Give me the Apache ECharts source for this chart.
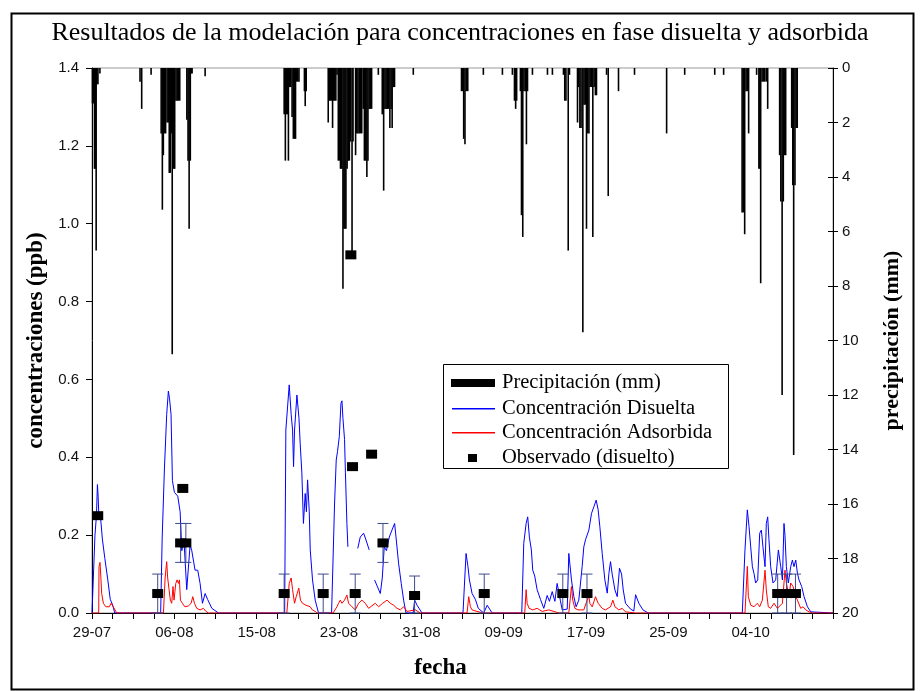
<!DOCTYPE html>
<html>
<head>
<meta charset="utf-8">
<script src="https://cdn.jsdelivr.net/npm/echarts@6/dist/echarts.min.js"></script>
<style>
  html, body { margin: 0; padding: 0; background: #fff; }
  #chart { width: 920px; height: 691px; }
</style>
</head>
<body>
<div id="chart"></div>
<script>
// x values are days counted from 29-07
const dateLabels = ['29-07', '06-08', '15-08', '23-08', '31-08', '09-09', '17-09', '25-09', '04-10'];
const tickStep = 25 / 12;

// precipitation [day, mm]
const precipitacion = [
    [0.05, 1.3], [0.15, 1.3], [0.25, 3.7], [0.35, 3.7], [0.42, 6.7], [0.5, 0.6], [0.6, 0.6], [0.8, 0.2],
    [4.86, 0.5], [5.03, 1.5], [5.98, 0.25],
    [7.0, 2.4], [7.12, 5.2], [7.22, 3.2], [7.35, 2.4], [7.45, 2.4], [7.6, 2.0], [7.72, 2.0], [7.82, 3.85],
    [7.92, 3.85], [8.02, 2.4], [8.12, 10.5], [8.25, 3.7], [8.37, 3.7], [8.5, 1.2], [8.62, 1.2], [8.75, 1.2], [8.88, 1.2],
    [9.6, 1.9], [9.72, 3.4], [9.83, 5.9], [9.95, 3.4], [10.05, 0.2], [10.13, 0.2],
    [11.45, 0.3],
    [19.45, 1.7], [19.57, 3.4], [19.68, 1.7], [19.8, 1.7], [19.88, 3.4], [20.0, 0.7], [20.12, 0.7], [20.25, 1.8],
    [20.38, 2.6], [20.5, 2.6], [20.6, 2.6], [20.7, 0.5], [20.82, 0.5], [20.95, 0.5],
    [21.5, 0.85], [21.58, 1.4], [21.68, 0.85],
    [23.91, 2.0], [24.02, 1.2], [24.12, 1.2], [24.25, 1.2], [24.35, 2.2], [24.45, 1.2], [24.55, 1.2], [24.68, 1.2],
    [24.8, 0.25], [24.93, 3.4], [25.05, 3.4], [25.15, 3.7], [25.27, 3.7], [25.4, 8.1], [25.5, 5.9], [25.6, 5.9],
    [25.7, 5.9], [25.82, 3.7], [25.93, 3.4], [26.05, 3.4], [26.17, 2.7], [26.32, 6.9], [26.42, 2.7], [26.68, 3.2],
    [26.8, 2.4], [26.92, 2.4], [27.05, 2.4], [27.17, 2.4], [27.3, 2.4], [27.45, 1.5], [27.57, 3.4], [27.7, 3.4],
    [27.82, 4.0], [27.93, 3.4], [28.05, 1.5], [28.17, 1.5], [28.3, 1.5],
    [28.98, 0.25],
    [29.38, 1.7], [29.52, 4.5], [29.65, 1.5], [29.77, 1.5], [29.9, 1.5], [30.02, 1.5], [30.15, 2.2], [30.27, 1.5],
    [30.38, 2.2], [30.5, 0.7], [30.62, 0.7],
    [32.52, 0.25],
    [37.4, 0.85], [37.52, 0.85], [37.62, 2.6], [37.75, 2.8], [37.88, 0.85], [38.03, 0.85],
    [39.61, 0.25], [41.54, 0.25], [42.55, 0.25], [42.76, 1.2], [42.88, 1.5], [42.98, 1.2],
    [43.36, 0.85], [43.47, 5.4], [43.6, 6.2], [43.72, 0.85], [43.85, 0.85], [43.97, 2.8], [44.08, 0.85],
    [44.58, 0.25], [46.1, 0.25], [46.6, 0.25],
    [47.72, 0.25], [47.85, 1.2], [47.97, 1.2], [48.2, 6.7], [48.33, 0.25],
    [49.14, 2.0], [49.25, 0.7], [49.38, 2.2], [49.5, 2.2], [49.68, 9.7], [49.8, 1.35], [49.92, 1.35], [50.05, 5.9],
    [50.17, 2.4], [50.3, 2.4], [50.42, 0.7], [50.55, 0.7], [50.69, 6.2], [50.82, 0.7], [50.95, 1.0], [51.06, 1.0],
    [52.08, 0.25], [52.25, 4.7], [53.29, 0.85], [54.91, 0.25], [58.16, 2.4], [59.99, 0.25], [63.03, 0.25], [63.93, 0.25],
    [65.8, 5.3], [65.92, 5.3], [66.06, 6.1], [66.2, 0.85], [66.32, 0.85], [66.46, 2.4],
    [67.27, 0.25], [67.5, 3.7], [67.6, 3.7], [67.68, 7.9], [67.82, 0.5], [67.95, 0.5], [68.09, 0.5], [68.25, 0.5], [68.39, 1.5],
    [69.6, 3.2], [69.72, 4.9], [69.85, 12.0], [69.97, 4.9], [70.1, 3.2], [70.21, 3.2],
    [70.82, 2.2], [70.93, 4.3], [71.02, 14.2], [71.15, 4.3], [71.27, 2.2], [71.38, 2.2]
];

// dissolved concentration [day, ppb]
const disuelta = [
    [0, 0], [0.2, 0], [0.3, 0.2], [0.45, 0.25], [0.55, 0.33], [0.62, 0.3], [0.68, 0.26], [0.85, 0.25], [1.05, 0.19],
    [1.3, 0.14], [1.6, 0.085], [1.85, 0.035], [2.1, 0.02], [2.3, 0],
    [6.95, 0], [7.1, 0.19], [7.33, 0.37], [7.56, 0.51], [7.73, 0.57], [7.85, 0.55], [8.0, 0.51], [8.14, 0.34],
    [8.34, 0.31], [8.68, 0.3], [8.92, 0.26], [9.09, 0.16], [9.3, 0.19], [9.59, 0.06], [9.93, 0.175], [10.1, 0.16],
    [10.43, 0.11], [10.7, 0.11], [10.94, 0.076], [11.18, 0.025], [11.45, 0.05], [11.7, 0.035], [12.13, 0.012], [12.8, 0],
    [19.5, 0], [19.62, 0.47], [19.96, 0.586], [20.16, 0.51], [20.3, 0.47], [20.4, 0.376], [20.5, 0.47], [20.74, 0.56],
    [20.84, 0.56], [20.95, 0.5], [21.07, 0.436], [21.24, 0.36], [21.4, 0.23], [21.58, 0.307], [21.7, 0.26],
    [21.82, 0.342], [21.99, 0.26], [22.09, 0.162], [22.32, 0.085], [22.59, 0.033], [22.93, 0],
    [24.25, 0], [24.55, 0.28], [24.72, 0.393], [24.85, 0.415], [25.03, 0.453], [25.2, 0.539], [25.3, 0.545],
    [25.4, 0.5], [25.56, 0.446], [25.65, 0.36], [25.8, 0.23], [25.9, 0.17], [26.0, null],
    [26.9, 0.166], [27.15, 0.195], [27.49, 0.205], [27.7, 0.19], [28.06, 0.162], [28.3, null],
    [28.6, 0.085], [28.85, 0.07], [29.18, 0.05], [29.38, 0.09], [29.58, 0.17], [29.8, 0.16], [30.09, 0.195],
    [30.36, 0.213], [30.63, 0.23], [30.77, 0.195], [31.03, 0.128], [31.3, 0.076], [31.54, 0.033], [31.78, 0],
    [32.5, 0], [32.66, 0.033], [32.9, 0.02], [33.4, 0],
    [37.55, 0], [37.86, 0.153], [38.05, 0.12], [38.2, 0.085], [38.47, 0.05], [38.8, 0.035], [39.1, 0.012],
    [39.65, 0], [40.0, 0.02], [40.5, 0],
    [43.5, 0], [43.7, 0.179], [43.94, 0.23], [44.1, 0.247], [44.27, 0.195], [44.47, 0.162], [44.61, 0.11],
    [44.81, 0.095], [45.05, 0.06], [45.39, 0.035], [45.73, 0.012], [46.07, 0.045], [46.3, 0.03], [46.58, 0.055],
    [46.85, 0.03], [47.08, 0.076], [47.4, 0.033], [47.59, 0.008], [48.1, 0.01], [48.26, 0.153], [48.43, 0.156],
    [48.53, 0.085], [48.77, 0.042], [49.0, 0.016], [49.27, 0.033], [49.61, 0.119], [49.78, 0.17], [49.95, 0.188],
    [50.29, 0.213], [50.56, 0.256], [50.8, 0.273], [51.03, 0.29], [51.23, 0.265], [51.4, 0.222], [51.64, 0.153],
    [51.91, 0.085], [52.15, 0.051], [52.32, 0.102], [52.48, 0.132], [52.65, 0.1], [52.93, 0.059], [53.16, 0.042],
    [53.39, 0.115], [53.6, 0.1], [53.77, 0.059], [54.0, 0.025], [54.51, 0.01], [54.84, 0.005], [55.02, 0.047],
    [55.35, 0.025], [55.76, 0.008], [56.3, 0],
    [65.82, 0], [66.09, 0.162], [66.33, 0.265], [66.5, 0.222], [66.67, 0.17], [66.84, 0.119], [67.0, 0.102],
    [67.17, 0.077], [67.38, 0.085], [67.58, 0.205], [67.75, 0.213], [67.91, 0.17], [68.12, 0.119], [68.25, 0.23],
    [68.39, 0.247], [68.52, 0.188], [68.69, 0.119], [68.93, 0.077], [69.2, 0.085], [69.47, 0.162], [69.71, 0.119],
    [69.88, 0.085], [70.04, 0.23], [70.14, 0.2], [70.28, 0.119], [70.48, 0.077], [70.72, 0.119], [70.89, 0.136],
    [71.05, 0.119], [71.23, 0.136], [71.4, 0.102], [71.56, 0.085], [71.83, 0.068], [72.07, 0.042], [72.41, 0.016],
    [72.75, 0.003], [72.9, 0], [75, 0]
];

// adsorbed concentration [day, ppb]
const adsorbida = [
    [0, 0], [0.68, 0], [0.71, 0.119], [0.81, 0.13], [0.9, 0.09], [0.98, 0.05], [1.15, 0.025], [1.4, 0.016],
    [1.75, 0.016], [1.93, 0.025], [2.15, 0.016], [2.5, 0],
    [7.23, 0], [7.4, 0.09], [7.56, 0.132], [7.66, 0.09], [7.8, 0.06], [7.93, 0.033], [8.07, 0.025], [8.2, 0.068],
    [8.3, 0.033], [8.48, 0.076], [8.61, 0.085], [8.75, 0.076], [8.85, 0.085], [8.95, 0.033], [9.15, 0.025],
    [9.4, 0.016], [9.75, 0.018], [10.03, 0.025], [10.2, 0.042], [10.37, 0.025], [10.6, 0.012], [10.94, 0.008],
    [11.28, 0.012], [11.5, 0.005], [11.78, 0],
    [19.72, 0], [19.96, 0.076], [20.16, 0.09], [20.3, 0.06], [20.5, 0.025], [20.67, 0.042], [20.93, 0.064],
    [21.1, 0.033], [21.3, 0.025], [21.5, 0.028], [21.65, 0.02], [22.09, 0.016], [22.3, 0.008], [22.59, 0.004], [22.8, 0],
    [24.4, 0], [24.55, 0.004], [24.79, 0.016], [24.96, 0.025], [25.13, 0.033], [25.3, 0.025], [25.56, 0.033],
    [25.8, 0.046], [25.97, 0.025], [26.31, 0.016], [26.65, 0.008], [26.98, 0.025], [27.32, 0.033], [27.66, 0.025],
    [28.0, 0.012], [28.67, 0.025], [29.01, 0.016], [29.42, 0.025], [29.86, 0.033], [30.19, 0.025], [30.53, 0.02],
    [30.87, 0.012], [31.21, 0.008], [31.54, 0.016], [31.88, 0.004], [32.73, 0.008], [33.23, 0],
    [37.96, 0], [38.13, 0.042], [38.3, 0.016], [38.47, 0.008], [38.97, 0.004], [39.65, 0],
    [43.8, 0], [43.94, 0.06], [44.04, 0.025], [44.24, 0.012], [44.61, 0.008], [45.05, 0.012], [45.56, 0.004],
    [46.23, 0.008], [47.25, 0],
    [48.26, 0], [48.53, 0.068], [48.66, 0.033], [48.87, 0.012], [49.2, 0.008], [49.78, 0.008], [50.12, 0.033],
    [50.29, 0.042], [50.39, 0.025], [50.63, 0.016], [50.8, 0.029], [50.96, 0.042], [51.23, 0.025], [51.64, 0.012],
    [51.98, 0.008], [52.48, 0.016], [52.72, 0.033], [52.93, 0.016], [53.33, 0.008], [53.66, 0.012], [54.0, 0.003], [55.02, 0],
    [66.09, 0], [66.33, 0.12], [66.43, 0.042], [66.67, 0.02], [67.0, 0.016], [67.34, 0.025], [67.58, 0.016],
    [67.85, 0.033], [68.12, 0.11], [68.25, 0.059], [68.45, 0.016], [68.69, 0.012], [69.03, 0.025], [69.37, 0.012],
    [69.88, 0.025], [70.14, 0.11], [70.28, 0.077], [70.55, 0.042], [70.72, 0.077], [70.96, 0.068], [71.23, 0.042],
    [71.4, 0.033], [71.73, 0.012], [71.97, 0.016], [72.24, 0.008], [72.58, 0.003], [72.92, 0], [75, 0]
];

// observed dissolved [day, ppb] and their error
const observado = [
    [0.58, 0.25], [6.65, 0.05], [8.97, 0.18], [9.5, 0.18], [9.19, 0.32], [19.45, 0.05], [23.4, 0.05],
    [26.2, 0.92], [26.37, 0.376], [26.64, 0.05], [28.3, 0.408], [29.45, 0.18], [32.65, 0.045], [39.7, 0.05],
    [47.65, 0.05], [50.1, 0.05], [69.4, 0.05], [70.3, 0.05], [71.2, 0.05]
];
const errorObs = [0, 0.05, 0.05, 0.05, 0, 0.05, 0.05, 0, 0, 0.05, 0, 0.05, 0.05, 0.05, 0.05, 0.05, 0.05, 0.05, 0.05];

const errorData = observado.map(function (p, i) { return [p[0], p[1], errorObs[i]]; })
    .filter(function (d) { return d[2] > 0; });

const chart = echarts.init(document.getElementById('chart'));

const serif = "'Liberation Serif', 'Times New Roman', serif";
const sans = "'Liberation Sans', Arial, sans-serif";
const legendFont = '20.5px ' + serif;

const option = {
    animation: false,
    backgroundColor: '#fff',
    title: {
        text: 'Resultados de la modelación para concentraciones en fase disuelta y adsorbida',
        left: 'center',
        top: 15,
        textStyle: { fontFamily: serif, fontSize: 26, fontWeight: 'normal', color: '#000' }
    },
    grid: {
        left: 92, right: 87, top: 68, bottom: 78,
        show: true, borderColor: '#999', borderWidth: 1
    },
    xAxis: {
        type: 'value',
        min: 0, max: 75, interval: tickStep,
        name: 'fecha',
        nameLocation: 'middle',
        nameGap: 44,
        nameTextStyle: { fontFamily: serif, fontSize: 23, fontWeight: 'bold', color: '#000', padding: [0, 44, 0, 0] },
        axisLine: { lineStyle: { color: '#000' } },
        axisTick: { length: 6, lineStyle: { color: '#000' } },
        splitLine: { show: false },
        axisLabel: {
            fontFamily: sans, fontSize: 15, color: '#111', margin: 12,
            formatter: function (v) {
                const n = Math.round(v / tickStep);
                return n % 4 === 0 && dateLabels[n / 4] ? dateLabels[n / 4] : '';
            }
        }
    },
    yAxis: [
        {
            type: 'value', position: 'left',
            min: 0, max: 1.4, interval: 0.2,
            name: 'concentraciones (ppb)',
            nameLocation: 'middle',
            nameGap: 30,
            nameTextStyle: { fontFamily: serif, fontSize: 23, fontWeight: 'bold', color: '#000' },
            axisLine: { show: true, lineStyle: { color: '#000' } },
            axisTick: { show: true, length: 6, lineStyle: { color: '#000' } },
            splitLine: { show: false },
            axisLabel: {
                fontFamily: sans, fontSize: 15, color: '#111', margin: 13,
                formatter: function (v) { return v.toFixed(1); }
            }
        },
        {
            type: 'value', position: 'right', inverse: true,
            min: 0, max: 20, interval: 2,
            name: 'precipitación (mm)',
            nameLocation: 'middle',
            nameRotate: 90,
            nameGap: 48,
            nameTextStyle: { fontFamily: serif, fontSize: 22, fontWeight: 'bold', color: '#000' },
            axisLine: { show: true, lineStyle: { color: '#000' } },
            axisTick: { show: true, length: 5, lineStyle: { color: '#000' } },
            splitLine: { show: false },
            axisLabel: { fontFamily: sans, fontSize: 15, color: '#111', margin: 9 }
        },
        {
            // inner half of the crossing ticks on the right axis
            type: 'value', position: 'right', inverse: true,
            min: 0, max: 20, interval: 2,
            axisLine: { show: false },
            axisTick: { show: true, inside: true, length: 5, lineStyle: { color: '#000' } },
            axisLabel: { show: false },
            splitLine: { show: false }
        }
    ],
    series: [
        {
            name: 'Precipitación (mm)',
            type: 'bar',
            yAxisIndex: 1,
            barWidth: 1.6,
            itemStyle: { color: '#000' },
            data: precipitacion,
            z: 1
        },
        {
            name: 'Concentración Disuelta',
            type: 'line',
            yAxisIndex: 0,
            symbol: 'none',
            connectNulls: false,
            lineStyle: { color: '#0000ff', width: 1 },
            data: disuelta,
            z: 2
        },
        {
            name: 'Concentración Adsorbida',
            type: 'line',
            yAxisIndex: 0,
            symbol: 'none',
            lineStyle: { color: '#ff0000', width: 1 },
            data: adsorbida,
            z: 3
        },
        {
            name: 'error',
            type: 'custom',
            yAxisIndex: 0,
            z: 4,
            data: errorData,
            renderItem: function (params, api) {
                const x = api.value(0), y = api.value(1), e = api.value(2);
                const top = api.coord([x, y + e]);
                const bot = api.coord([x, Math.max(0, y - e)]);
                const half = 5.5;
                const style = { stroke: '#3d4b8c', lineWidth: 1 };
                return {
                    type: 'group',
                    children: [
                        { type: 'line', shape: { x1: top[0], y1: top[1], x2: bot[0], y2: bot[1] }, style: style },
                        { type: 'line', shape: { x1: top[0] - half, y1: top[1], x2: top[0] + half, y2: top[1] }, style: style },
                        { type: 'line', shape: { x1: bot[0] - half, y1: bot[1], x2: bot[0] + half, y2: bot[1] }, style: style }
                    ]
                };
            }
        },
        {
            name: 'Observado (disuelto)',
            type: 'scatter',
            yAxisIndex: 0,
            symbol: 'rect',
            symbolSize: [11, 9],
            itemStyle: { color: '#000', opacity: 1 },
            data: observado,
            z: 5
        }
    ],
    graphic: [
        {
            type: 'rect', left: 9, top: 11, z: 100,
            shape: { width: 902, height: 676 },
            style: { fill: 'none', stroke: '#000', lineWidth: 2 }
        },
        {
            type: 'group', left: 443, top: 364, z: 100,
            children: [
                { type: 'rect', shape: { x: 0.5, y: 0.5, width: 285, height: 104 }, style: { fill: '#fff', stroke: '#000', lineWidth: 1 } },
                { type: 'rect', shape: { x: 8, y: 15, width: 44, height: 8 }, style: { fill: '#000' } },
                { type: 'rect', shape: { x: 9, y: 44, width: 43, height: 1.4 }, style: { fill: '#0000ff' } },
                { type: 'rect', shape: { x: 9, y: 68, width: 43, height: 1.4 }, style: { fill: '#ff0000' } },
                { type: 'rect', shape: { x: 25, y: 90, width: 9, height: 8 }, style: { fill: '#000' } },
                { type: 'text', x: 59, y: 19, style: { text: 'Precipitación (mm)', font: legendFont, fill: '#000', verticalAlign: 'middle' } },
                { type: 'text', x: 59, y: 45, style: { text: 'Concentración Disuelta', font: legendFont, fill: '#000', verticalAlign: 'middle' } },
                { type: 'text', x: 59, y: 69, style: { text: 'Concentración Adsorbida', font: legendFont, fill: '#000', verticalAlign: 'middle' } },
                { type: 'text', x: 59, y: 94, style: { text: 'Observado (disuelto)', font: legendFont, fill: '#000', verticalAlign: 'middle' } }
            ]
        }
    ]
};

chart.setOption(option);
</script>
</body>
</html>
